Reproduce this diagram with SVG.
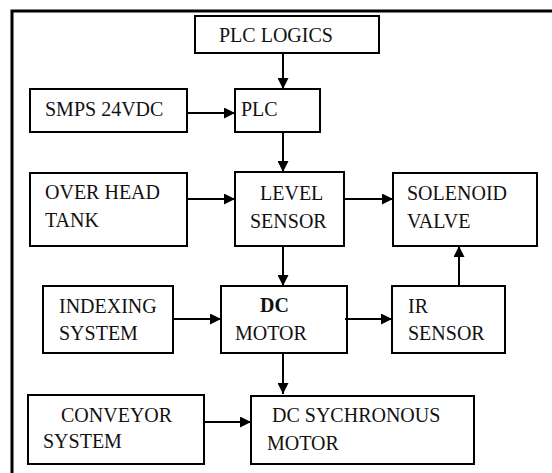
<svg xmlns="http://www.w3.org/2000/svg" width="552" height="473" viewBox="0 0 552 473">
<style>
.box{fill:#fff;stroke:#000;stroke-width:2}
.t{font-family:"Liberation Serif","Times New Roman",serif;font-size:20px;fill:#111}
.c{stroke:#000;stroke-width:2;fill:none;marker-end:url(#ah)}
</style>
<defs>
<marker id="ah" markerUnits="userSpaceOnUse" markerWidth="11" markerHeight="11" refX="10" refY="5" orient="auto" viewBox="0 0 10 10">
<path d="M0,0 L10,5 L0,10 z" fill="#000"/>
</marker>
</defs>
<rect width="552" height="473" fill="#fff"/>
<g id="frame"><path d="M12,473 V11 H552" fill="none" stroke="#000" stroke-width="3"/></g>
<g id="plc-logics"><rect class="box" x="195" y="16" width="184" height="37"/><text class="t" x="219" y="42">PLC LOGICS</text></g>
<g id="smps"><rect class="box" x="30" y="89" width="157" height="43"/><text class="t" x="45" y="116">SMPS 24VDC</text></g>
<g id="plc"><rect class="box" x="235" y="89" width="85" height="43"/><text class="t" x="241" y="116">PLC</text></g>
<g id="overhead-tank"><rect class="box" x="30" y="173" width="157" height="73"/><text class="t" x="45" y="199">OVER HEAD</text><text class="t" x="45" y="227">TANK</text></g>
<g id="level-sensor"><rect class="box" x="235" y="172" width="109" height="74"/><text class="t" x="260" y="200">LEVEL</text><text class="t" x="250" y="228">SENSOR</text></g>
<g id="solenoid-valve"><rect class="box" x="393" y="173" width="144" height="73"/><text class="t" x="407" y="200">SOLENOID</text><text class="t" x="407" y="228">VALVE</text></g>
<g id="indexing-system"><rect class="box" x="43" y="286" width="130" height="67"/><text class="t" x="59" y="313">INDEXING</text><text class="t" x="59" y="340">SYSTEM</text></g>
<g id="dc-motor"><rect class="box" x="221" y="286" width="126" height="67"/><text class="t" x="260" y="312" font-weight="bold">DC</text><text class="t" x="235" y="340">MOTOR</text></g>
<g id="ir-sensor"><rect class="box" x="392" y="286" width="113" height="67"/><text class="t" x="408" y="313">IR</text><text class="t" x="408" y="340">SENSOR</text></g>
<g id="conveyor-system"><rect class="box" x="28" y="395" width="176" height="69"/><text class="t" x="61" y="422">CONVEYOR</text><text class="t" x="43" y="448">SYSTEM</text></g>
<g id="dc-synchronous-motor"><rect class="box" x="251" y="396" width="223" height="68"/><text class="t" x="272" y="422">DC SYCHRONOUS</text><text class="t" x="267" y="450">MOTOR</text></g>
<g id="connectors">
<path class="c" d="M283,53 V89"/>
<path class="c" d="M187,113 H235"/>
<path class="c" d="M283,132 V172"/>
<path class="c" d="M187,199 H235"/>
<path class="c" d="M344,199 H393"/>
<path class="c" d="M283,246 V286"/>
<path class="c" d="M173,319 H221"/>
<path class="c" d="M345,319 H392"/>
<path class="c" d="M459,286 V246"/>
<path class="c" d="M283,353 V394"/>
<path class="c" d="M204,422 H251"/>
</g>
</svg>
